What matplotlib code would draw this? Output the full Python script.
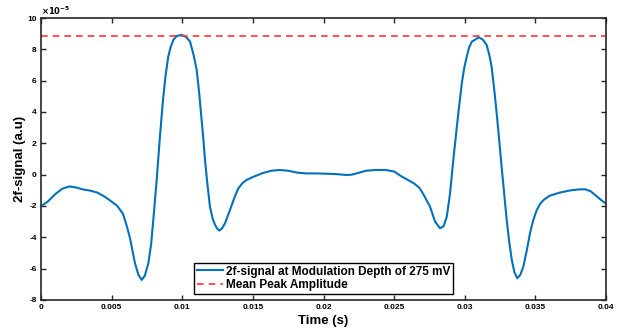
import matplotlib
matplotlib.use("Agg")
import matplotlib.pyplot as plt
from matplotlib.ticker import FixedLocator, FixedFormatter

plt.rcParams["font.family"] = ["Liberation Sans", "DejaVu Sans"]
plt.rcParams["font.weight"] = "bold"

# time in ms, signal in units of 1e-5
t_ms = [0, 0.5, 1.0, 1.5, 2.0, 2.5, 3.0, 3.5, 4.0, 4.5, 5.0, 5.4, 5.8, 6.05, 6.3,
        6.65, 6.9, 7.13, 7.35, 7.6, 7.8, 7.95, 8.07, 8.19, 8.3, 8.42, 8.54, 8.66,
        8.83, 9.01, 9.18, 9.37, 9.6, 9.96, 10.25, 10.55, 10.8, 11.02, 11.2, 11.37,
        11.5, 11.61, 11.78, 11.96, 12.15, 12.32, 12.48, 12.63, 12.8, 13.03, 13.38,
        13.7, 13.95, 14.25, 14.55, 15.0, 15.7, 16.3, 16.9, 17.5, 18.2, 18.8, 19.5,
        20.5, 21.0, 21.6, 22.0, 22.5, 23.0, 23.7, 24.4, 25.0, 25.5, 26.0, 26.4,
        26.8, 27.1, 27.54, 27.9, 28.25, 28.5, 28.73, 28.96, 29.19, 29.44, 29.62,
        29.79, 29.96, 30.14, 30.3, 30.5, 31.0, 31.3, 31.55, 31.75, 31.9, 32.08,
        32.26, 32.44, 32.61, 32.79, 32.97, 33.15, 33.33, 33.52, 33.72, 33.93,
        34.15, 34.4, 34.62, 34.85, 35.1, 35.35, 35.6, 36.0, 36.7, 37.5, 38.0,
        38.5, 38.9, 39.3, 39.7, 40.0]
sig_e5 = [-2.02, -1.7, -1.25, -0.9, -0.75, -0.82, -0.95, -1.02, -1.15, -1.4, -1.72,
          -2.0, -2.5, -3.2, -4.05, -5.65, -6.4, -6.72, -6.45, -5.65, -4.4, -2.89,
          -1.6, -0.34, 1.0, 2.43, 3.75, 4.98, 6.4, 7.53, 8.15, 8.6, 8.85, 8.92, 8.8,
          8.5, 7.65, 6.7, 5.2, 3.5, 2.2, 0.94, -0.6, -2.04, -2.8, -3.2, -3.45, -3.57,
          -3.45, -3.1, -2.25, -1.45, -0.9, -0.55, -0.34, -0.15, 0.1, 0.25, 0.3, 0.25,
          0.12, 0.08, 0.08, 0.05, 0.03, -0.02, 0.0, 0.12, 0.25, 0.3, 0.3, 0.2, -0.1,
          -0.35, -0.55, -0.85, -1.3, -2.04, -3.0, -3.42, -3.3, -2.68, -1.19, 0.94,
          3.06, 4.5, 5.83, 6.8, 7.53, 8.1, 8.49, 8.77, 8.6, 8.28, 7.6, 6.9, 5.5,
          3.92, 2.2, 0.51, -1.2, -2.89, -4.3, -5.44, -6.25, -6.61, -6.4, -5.87,
          -4.8, -3.74, -2.9, -2.25, -1.85, -1.6, -1.35, -1.15, -1.0, -0.95, -0.93,
          -1.05, -1.35, -1.65, -1.85]
mean_peak_e5 = 8.85

xticks = [0, 0.005, 0.01, 0.015, 0.02, 0.025, 0.03, 0.035, 0.04]
xtick_labels = ["0", "0.005", "0.01", "0.015", "0.02", "0.025", "0.03", "0.035", "0.04"]
yticks = [-8, -6, -4, -2, 0, 2, 4, 6, 8, 10]

t = [v / 1000 for v in t_ms]
sig = [v * 1e-5 for v in sig_e5]

fig = plt.figure(figsize=(6.27, 3.31), dpi=100)
ax = fig.add_axes([0.0654, 0.0937, 0.9011, 0.8519])

ax.plot(t, sig, color="#0072BD", linewidth=1.5,
        label="2f-signal at Modulation Depth of 275 mV")
ax.axhline(mean_peak_e5 * 1e-5, color="#FF3333", linestyle=(0, (4, 3)), linewidth=1.2,
           label="Mean Peak Amplitude")

ax.set_xlim(0, 0.04)
ax.set_ylim(-8e-5, 10e-5)
ax.xaxis.set_major_locator(FixedLocator(xticks))
ax.xaxis.set_major_formatter(FixedFormatter(xtick_labels))
ax.yaxis.set_major_locator(FixedLocator([v * 1e-5 for v in yticks]))
ax.yaxis.set_major_formatter(FixedFormatter([str(v) for v in yticks]))
ax.text(0.0, 1.004, r"$\times10^{-5}$", transform=ax.transAxes, fontsize=6,
        ha="left", va="bottom")

ax.tick_params(direction="in", top=True, right=True, length=3.5, width=1,
               labelsize=6, color="#262626", pad=3)
for s in ax.spines.values():
    s.set_linewidth(1.2)
    s.set_color("#262626")

ax.set_xlabel("Time (s)", fontsize=9.5, fontweight="bold", labelpad=3)
ax.set_ylabel("2f-signal (a.u)", fontsize=9.5, fontweight="bold", labelpad=1)

leg = ax.legend(loc="lower center", bbox_to_anchor=(0.5, 0.02), fontsize=8.5,
                frameon=True, fancybox=False, edgecolor="black", framealpha=1,
                handlelength=2.2, handletextpad=0.3, borderpad=0.25,
                labelspacing=0.15, borderaxespad=0)
leg.get_frame().set_linewidth(1.0)
for txt in leg.get_texts():
    txt.set_fontweight("bold")

fig.savefig("out.png", dpi=100)
